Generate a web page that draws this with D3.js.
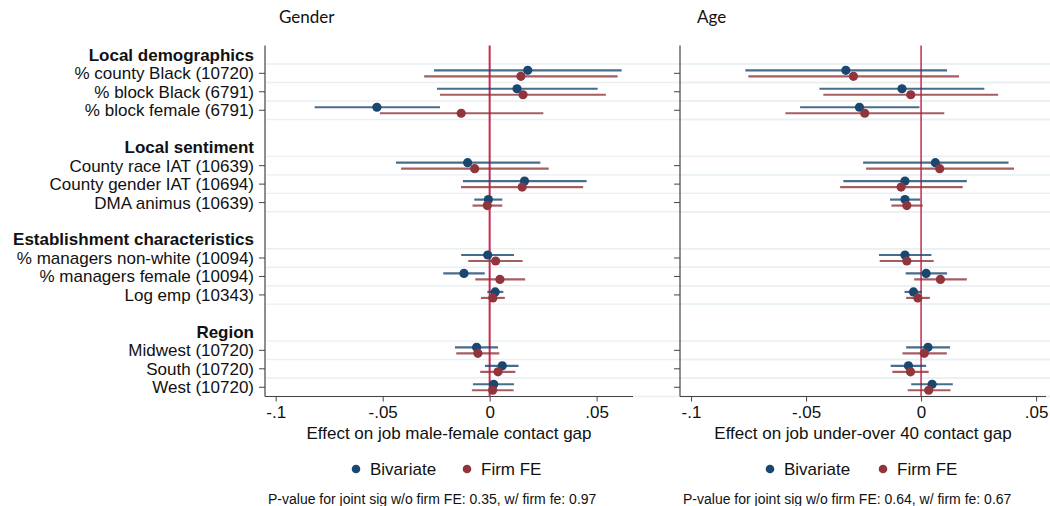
<!DOCTYPE html>
<html>
<head>
<meta charset="utf-8">
<script src="https://cdn.jsdelivr.net/npm/d3@7"></script>
<style>
  body { margin: 0; background: #fff; }
  text { font-family: "Liberation Sans", Arial, sans-serif; fill: #111; }
  .title { font-family: Lato, "Open Sans", sans-serif; font-size: 17px; }
</style>
</head>
<body>
<svg id="chart" width="1050" height="506"></svg>
<script>
// groups of covariates, each followed by its rows
const groupNames = ['Local demographics', 'Local sentiment', 'Establishment characteristics', 'Region'];
const rowLabels = [
  '% county Black (10720)', '% block Black (6791)', '% block female (6791)',
  'County race IAT (10639)', 'County gender IAT (10694)', 'DMA animus (10639)',
  '% managers non-white (10094)', '% managers female (10094)', 'Log emp (10343)',
  'Midwest (10720)', 'South (10720)', 'West (10720)'
];
const rowGroup = [0, 0, 0, 1, 1, 1, 2, 2, 2, 3, 3, 3];

// [estimate, lower, upper]
const genderBivariate = [
  [0.0178, -0.0260, 0.0617], [0.0128, -0.0246, 0.0505], [-0.0527, -0.0818, -0.0232],
  [-0.0103, -0.0438, 0.0237], [0.0163, -0.0125, 0.0453], [-0.0006, -0.0072, 0.0059],
  [-0.0009, -0.0133, 0.0114], [-0.0120, -0.0217, -0.0023], [0.0026, -0.0011, 0.0064],
  [-0.0061, -0.0162, 0.0039], [0.0059, -0.0022, 0.0135], [0.0019, -0.0078, 0.0114]
];
const genderFirmFE = [
  [0.0146, -0.0306, 0.0598], [0.0156, -0.0232, 0.0543], [-0.0133, -0.0513, 0.0251],
  [-0.0070, -0.0414, 0.0276], [0.0152, -0.0134, 0.0437], [-0.0011, -0.0080, 0.0059],
  [0.0028, -0.0100, 0.0154], [0.0048, -0.0067, 0.0166], [0.0015, -0.0041, 0.0071],
  [-0.0055, -0.0156, 0.0045], [0.0039, -0.0044, 0.0120], [0.0014, -0.0083, 0.0112]
];
const ageBivariate = [
  [-0.0327, -0.0764, 0.0113], [-0.0083, -0.0442, 0.0275], [-0.0268, -0.0526, -0.0007],
  [0.0062, -0.0252, 0.0380], [-0.0070, -0.0338, 0.0199], [-0.0070, -0.0135, -0.0004],
  [-0.0070, -0.0183, 0.0045], [0.0022, -0.0067, 0.0113], [-0.0033, -0.0072, 0.0003],
  [0.0030, -0.0065, 0.0126], [-0.0055, -0.0132, 0.0022], [0.0048, -0.0043, 0.0138]
];
const ageFirmFE = [
  [-0.0294, -0.0751, 0.0165], [-0.0045, -0.0425, 0.0335], [-0.0245, -0.0590, 0.0101],
  [0.0081, -0.0239, 0.0404], [-0.0087, -0.0352, 0.0181], [-0.0062, -0.0129, 0.0007],
  [-0.0062, -0.0180, 0.0055], [0.0084, -0.0030, 0.0199], [-0.0014, -0.0065, 0.0038],
  [0.0014, -0.0081, 0.0112], [-0.0046, -0.0125, 0.0033], [0.0033, -0.0058, 0.0128]
];
const xTicks = [-0.1, -0.05, 0, 0.05];
const tickLabels = ['-.1', '-.05', '0', '.05'];
const seriesNames = ['Bivariate', 'Firm FE'];

const BLUE = '#1a476f', RED = '#90353b';

const svg = d3.select('#chart');

// slot layout: header, 3 rows, blank gap, per group
const slots = [];
groupNames.forEach((g, gi) => {
  slots.push({ type: 'header', label: g, slot: gi * 5 });
});
rowLabels.forEach((l, i) => {
  const gi = rowGroup[i];
  const within = i - rowGroup.indexOf(gi);
  slots.push({ type: 'row', label: l, slot: gi * 5 + 1 + within, index: i });
});
const rows = slots.filter(s => s.type === 'row');

const y = d3.scaleLinear().domain([-0.5, 18.5]).range([45.6, 396.5]);

const panels = [
  { title: 'Gender', titleX: 279, left: 265, right: 633, domain: [-0.105, 0.067],
    axisTitle: 'Effect on job male-female contact gap',
    series: [genderBivariate, genderFirmFE],
    legendX: [356, 467], note: 'P-value for joint sig w/o firm FE: 0.35, w/ firm fe: 0.97', noteX: 268,
    labels: true, refWidth: 2 },
  { title: 'Age', titleX: 697, left: 680, right: 1046, domain: [-0.1048, 0.0543],
    axisTitle: 'Effect on job under-over 40 contact gap',
    series: [ageBivariate, ageFirmFE],
    legendX: [770, 883], note: 'P-value for joint sig w/o firm FE: 0.64, w/ firm fe: 0.67', noteX: 683,
    labels: false, refWidth: 1.5 }
];

panels.forEach(p => drawPanel(p));

function drawPanel(p) {
  const x = d3.scaleLinear().domain(p.domain).range([p.left, p.right]);
  const g = svg.append('g');

  g.append('text')
    .attr('class', 'title')
    .attr('x', p.titleX)
    .attr('y', 23)
    .text(p.title);

  // light horizontal gridlines around each row
  const gridYs = [];
  rows.forEach(r => { gridYs.push(r.slot - 0.5, r.slot + 0.5); });
  g.append('g')
    .selectAll('line')
    .data(Array.from(new Set(gridYs)))
    .join('line')
    .attr('x1', p.left + 1)
    .attr('x2', 1050)
    .attr('y1', d => y(d))
    .attr('y2', d => y(d))
    .attr('stroke', '#e8f0f2')
    .attr('stroke-width', 1.4);

  // y axis
  g.append('line')
    .attr('x1', p.left).attr('x2', p.left)
    .attr('y1', y(-0.5)).attr('y2', y(18.5))
    .attr('stroke', '#444').attr('stroke-width', 1.2);
  g.append('g')
    .selectAll('line')
    .data(rows)
    .join('line')
    .attr('x1', p.left - 6).attr('x2', p.left)
    .attr('y1', d => y(d.slot)).attr('y2', d => y(d.slot))
    .attr('stroke', '#444').attr('stroke-width', 1);

  if (p.labels) {
    g.append('g')
      .selectAll('text')
      .data(slots)
      .join('text')
      .attr('x', p.left - 11)
      .attr('y', d => y(d.slot))
      .attr('dy', '0.35em')
      .attr('text-anchor', 'end')
      .style('font-size', '17px')
      .style('font-weight', d => d.type === 'header' ? 'bold' : 'normal')
      .text(d => d.label);
  }

  // x axis
  const xAxis = d3.axisBottom(x)
    .tickValues(xTicks)
    .tickFormat((d, i) => tickLabels[i])
    .tickSize(5)
    .tickSizeOuter(0);
  const ax = g.append('g')
    .attr('transform', `translate(0,${y(18.5)})`)
    .call(xAxis);
  ax.select('.domain').attr('d', `M${p.left},0H${Math.min(p.right, 1050)}`)
    .attr('stroke', '#444').attr('stroke-width', 1.2);
  ax.selectAll('.tick line').attr('stroke', '#444');
  ax.selectAll('.tick text')
    .attr('y', 9)
    .style('font-size', '17px')
    .style('font-family', '"Liberation Sans", Arial, sans-serif')
    .attr('fill', '#111');

  g.append('text')
    .attr('x', (p.left + p.right) / 2)
    .attr('y', 439)
    .attr('text-anchor', 'middle')
    .style('font-size', '17px')
    .text(p.axisTitle);

  // reference line at zero
  g.append('line')
    .attr('x1', x(0)).attr('x2', x(0))
    .attr('y1', y(-0.5)).attr('y2', y(18.5))
    .attr('stroke', '#c8294c')
    .attr('stroke-width', p.refWidth);

  // CIs and points
  const colors = [BLUE, RED];
  const offsets = [-3, 3];
  p.series.forEach((s, si) => {
    const sg = g.append('g');
    sg.selectAll('line')
      .data(rows)
      .join('line')
      .attr('x1', d => x(s[d.index][1]))
      .attr('x2', d => x(s[d.index][2]))
      .attr('y1', d => y(d.slot) + offsets[si])
      .attr('y2', d => y(d.slot) + offsets[si])
      .attr('stroke', colors[si])
      .attr('stroke-opacity', 0.8)
      .attr('stroke-width', 2.2);
    sg.selectAll('circle')
      .data(rows)
      .join('circle')
      .attr('cx', d => x(s[d.index][0]))
      .attr('cy', d => y(d.slot) + offsets[si])
      .attr('r', 4.6)
      .attr('fill', colors[si]);
  });

  // legend
  const lg = g.append('g');
  seriesNames.forEach((n, i) => {
    lg.append('circle')
      .attr('cx', p.legendX[i]).attr('cy', 469)
      .attr('r', 4.3).attr('fill', colors[i]);
    lg.append('text')
      .attr('x', p.legendX[i] + 14).attr('y', 469)
      .attr('dy', '0.35em')
      .style('font-size', '17px')
      .text(n);
  });

  g.append('text')
    .attr('x', p.noteX)
    .attr('y', 504)
    .style('font-size', '14px')
    .text(p.note);
}
</script>
</body>
</html>
